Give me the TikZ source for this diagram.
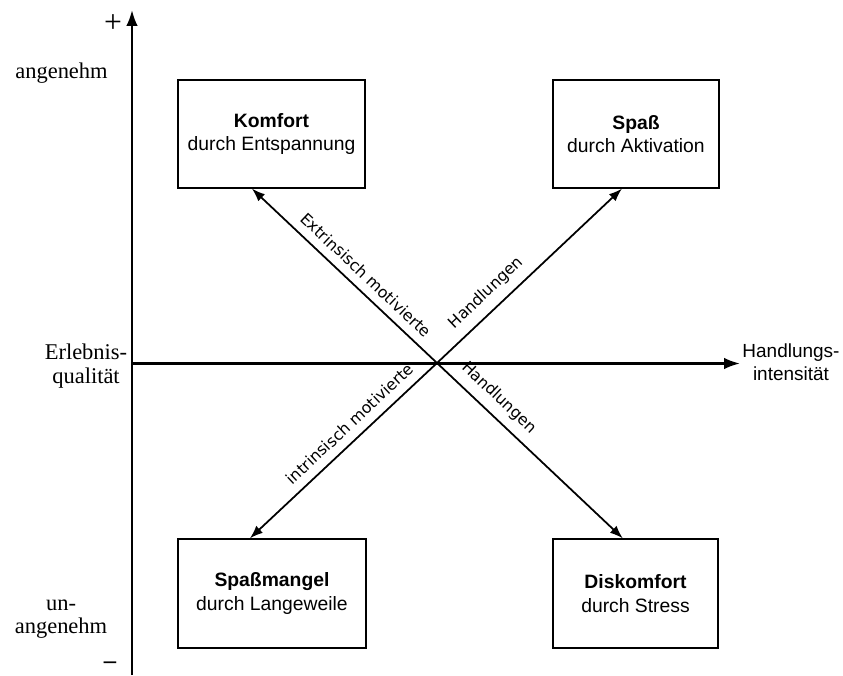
\documentclass[tikz,border=0pt]{standalone}
\usepackage{fontspec}
\setmainfont{Liberation Serif}
\newfontfamily\boxfont{Liberation Sans}
\newfontfamily\slopefont{DejaVu Sans}
\usetikzlibrary{calc,arrows.meta}

\tikzset{
  quadrant/.style={draw, line width=0.7pt, align=center, inner sep=0pt,
    font=\boxfont\fontsize{11}{13.2}\selectfont},
  axisline/.style={line width=1.3pt, -{Latex[length=9pt,width=6.5pt]}},
  diagline/.style={line width=1pt, -{Latex[length=7.5pt,width=5.5pt]}},
  diaglabel/.style={sloped, above=1.5pt, font=\slopefont\fontsize{9}{11}\selectfont},
  sidelabel/.style={align=center, font=\fontsize{12.8}{13.5}\selectfont},
}

\begin{document}
\begin{tikzpicture}
   \useasboundingbox (0,0) rectangle (16.86,13.5);

   % the four boxes
   \node[quadrant, minimum width=3.74cm, minimum height=2.16cm] at (5.43, 10.82) (komfort) {\textbf{Komfort}\\durch Entspannung};
   \node[quadrant, minimum width=3.32cm, minimum height=2.16cm] at (12.72, 10.82) (spass) {\textbf{Spaß}\\durch Aktivation};
   \node[quadrant, minimum width=3.76cm, minimum height=2.18cm] at (5.44, 1.63) (mangel) {\textbf{Spaßmangel}\\durch Langeweile};
   \node[quadrant, minimum width=3.30cm, minimum height=2.18cm] at (12.71, 1.63) (diskomfort) {\textbf{Diskomfort}\\durch Stress};

   % axes
   \coordinate (ybot) at (2.64, 0);
   \coordinate (ytop) at (2.64, 13.3);
   \coordinate (xleft) at (2.64, 6.23);
   \coordinate (xright) at (14.8, 6.23);
   \coordinate (o) at (8.74, 6.24);

   \draw [axisline] (ybot) to (ytop);
   \draw [axisline] (xleft) to (xright);

   % axis labels
   \node[font=\fontsize{18}{18}\selectfont] at (2.26, 13.02) (plus) {+};
   \node[font=\fontsize{14}{14}\selectfont\bfseries] at (2.2, 0.2) (minus) {--};
   \node[sidelabel] at (1.23, 12.04) (angenehm) {angenehm};
   \node[sidelabel] at (1.72, 6.18) (erlebnis) {Erlebnis-\\qualität};
   \node[sidelabel] at (1.22, 1.12) (unangenehm) {un-\\angenehm};
   \node[align=center, font=\boxfont\fontsize{10.8}{13}\selectfont] at (15.82, 6.26) (intensitaet) {Handlungs-\\intensität};

   % diagonals
   \draw [diagline] (o) to node[diaglabel, pos=0.44] {Extrinsisch motivierte}
      ($(komfort.south west)!0.396!(komfort.south east)$);
   \draw [diagline] (o) to node[diaglabel, pos=0.33] {Handlungen}
      ($(spass.south west)!0.416!(spass.south east)$);
   \draw [diagline] (o) to node[diaglabel, pos=0.41] {intrinsisch motivierte}
      ($(mangel.north west)!0.383!(mangel.north east)$);
   \draw [diagline] (o) to node[diaglabel, pos=0.27] {Handlungen}
      ($(diskomfort.north west)!0.424!(diskomfort.north east)$);

\end{tikzpicture}
\end{document}
